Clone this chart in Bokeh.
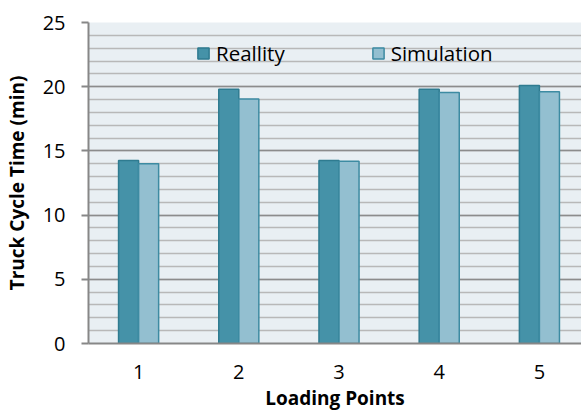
from bokeh.plotting import figure
from bokeh.models import FixedTicker, Legend, LegendItem, ColumnDataSource
from bokeh.transform import dodge
from bokeh.embed import file_html
from bokeh.resources import INLINE

categories = ["1", "2", "3", "4", "5"]
reality = [14.25, 19.8, 14.25, 19.8, 20.1]
simulation = [14.0, 19.05, 14.2, 19.55, 19.6]
y_ticks = [0, 5, 10, 15, 20, 25]

FONT = "Open Sans"
xs = list(range(1, len(categories) + 1))
src = ColumnDataSource(dict(x=xs, reality=reality, simulation=simulation))

X0, X1 = 0.5, 5.42
p = figure(width=581, height=413, output_backend="svg", toolbar_location=None,
           x_range=(X0, X1), y_range=(0, 25))
p.min_border_left = 88
p.min_border_right = 0
p.min_border_top = 22
p.min_border_bottom = 69
p.outline_line_color = None
p.background_fill_color = "#E9EFF3"
p.border_fill_color = "white"

r1 = p.vbar(x=dodge("x", -0.1, range=p.x_range), top="reality", width=0.2, source=src,
            fill_color="#4592A8", line_color="#2F7B90", line_width=1.5)
r2 = p.vbar(x=dodge("x", 0.1, range=p.x_range), top="simulation", width=0.2, source=src,
            fill_color="#93BFD0", line_color="#3D8BA2", line_width=1.5)

# grid
p.xgrid.grid_line_color = None
p.ygrid.ticker = FixedTicker(ticks=y_ticks, minor_ticks=list(range(0, 26)))
p.ygrid.grid_line_color = "#8C8C8C"
p.ygrid.grid_line_width = 1.5
p.ygrid.minor_grid_line_color = "#B8B8B8"
p.ygrid.minor_grid_line_width = 1.5
p.ygrid.level = "underlay"

# y axis
ya = p.yaxis[0]
ya.ticker = FixedTicker(ticks=y_ticks)
ya.axis_line_color = "#878787"
ya.axis_line_width = 2
ya.major_tick_line_color = "#878787"
ya.major_tick_line_width = 2
ya.major_tick_out = 7
ya.major_tick_in = 0
ya.minor_tick_line_color = None
ya.major_label_standoff = 16
ya.major_label_text_font = FONT
ya.major_label_text_font_size = "20px"
ya.major_label_text_color = "black"
ya.axis_label = "Truck Cycle Time (min)"
ya.axis_label_text_font = FONT
ya.axis_label_text_font_style = "bold"
ya.axis_label_text_font_size = "19px"
ya.axis_label_text_color = "black"
ya.axis_label_standoff = 10

# x axis
xa = p.xaxis[0]
xa.ticker = FixedTicker(ticks=xs)
xa.major_label_overrides = {x: c for x, c in zip(xs, categories)}
xa.axis_line_color = "#878787"
xa.axis_line_width = 2
xa.major_tick_line_color = None
xa.minor_tick_line_color = None
xa.major_tick_out = 0
xa.major_tick_in = 0
xa.major_label_standoff = 21
xa.major_label_text_font = FONT
xa.major_label_text_font_size = "20px"
xa.major_label_text_color = "black"
xa.axis_label = "Loading Points"
xa.axis_label_text_font = FONT
xa.axis_label_text_font_style = "bold"
xa.axis_label_text_font_size = "19px"
xa.axis_label_text_color = "black"
xa.axis_label_standoff = 3

legend = Legend(items=[LegendItem(label="Reallity", renderers=[r1]),
                       LegendItem(label="Simulation", renderers=[r2])],
                orientation="horizontal", location=(108, 276))
legend.background_fill_alpha = 0
legend.border_line_color = None
legend.padding = 0
legend.margin = 0
legend.spacing = 86
legend.glyph_width = 14
legend.glyph_height = 14
legend.label_standoff = 6
legend.label_text_font = FONT
legend.label_text_font_size = "20.5px"
legend.label_text_color = "black"
p.add_layout(legend)

open("out.html", "w").write(file_html(p, INLINE))
